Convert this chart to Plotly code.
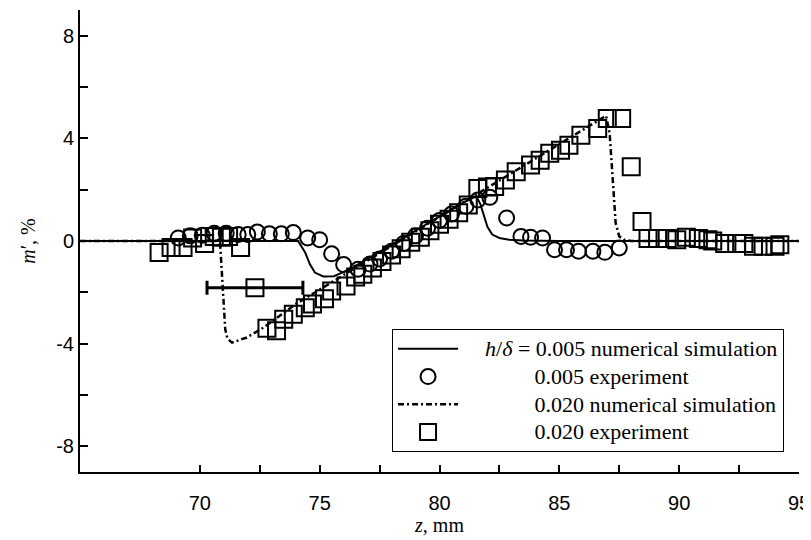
import plotly.graph_objects as go

# ---- data ----
sim005_z = [65.0, 70.0, 73.0, 73.8, 74.1, 74.4, 74.6, 74.8, 75.15, 75.6, 76.0, 76.3,
            77.0, 78.0, 79.0, 80.0, 81.0, 81.4, 81.55, 81.7, 81.85, 82.0, 82.2, 82.5,
            82.9, 83.5, 85.0, 90.0, 95.0]
sim005_m = [0.0, 0.0, 0.02, 0.02, 0.0, -0.46, -0.92, -1.23, -1.38, -1.37, -1.19, -1.08,
            -0.7, -0.15, 0.4, 0.95, 1.5, 1.68, 1.72, 1.45, 1.0, 0.55, 0.25, 0.12,
            0.05, 0.02, 0.0, 0.0, 0.0]

exp005_z = [69.1, 69.6, 70.1, 70.6, 71.1, 71.6, 72.0, 72.4, 72.9, 73.4, 73.9, 74.5,
            75.0, 75.5, 76.0, 76.6, 77.1, 77.5, 78.0, 78.5, 79.0, 79.5, 80.0, 80.5,
            81.1, 81.6, 82.1, 82.8, 83.4, 83.8, 84.3, 84.8, 85.3, 85.8, 86.4, 86.9, 87.5]
exp005_m = [0.12, 0.2, 0.22, 0.3, 0.3, 0.25, 0.25, 0.35, 0.28, 0.28, 0.33, 0.12,
            0.05, -0.5, -0.92, -1.1, -0.9, -0.7, -0.4, -0.1, 0.2, 0.5, 0.8, 1.05,
            1.35, 1.6, 1.7, 0.9, 0.18, 0.15, 0.12, -0.34, -0.34, -0.4, -0.4, -0.44, -0.27]

sim020_z = [65.0, 70.0, 70.7, 70.85, 70.95, 71.06, 71.15, 71.34, 71.96, 72.66, 74.0,
            76.0, 78.0, 80.0, 82.0, 84.0, 86.0, 86.95, 87.1, 87.2, 87.27, 87.35,
            87.5, 87.7, 88.0, 90.0, 95.0]
sim020_m = [0.0, 0.0, 0.0, -0.14, -1.6, -3.44, -3.8, -3.96, -3.76, -3.37, -2.46,
            -1.33, -0.2, 0.93, 2.05, 3.18, 4.31, 4.88, 4.19, 2.89, 1.6, 0.7,
            0.18, 0.05, 0.0, 0.0, 0.0]

exp020_z = [68.3, 68.8, 69.3, 69.7, 70.2, 70.6, 70.9, 71.2, 71.7, 72.8, 73.2, 73.5,
            73.9, 74.4, 74.7, 75.2, 75.5, 76.1, 76.5, 76.8, 77.2, 77.6, 78.0, 78.4,
            78.8, 79.2, 79.6, 80.0, 80.4, 80.8, 81.2, 81.6, 82.0, 82.3, 82.75, 83.2,
            83.8, 84.2, 84.6, 85.05, 85.4, 85.9, 86.6, 87.0, 87.6, 88.0, 88.45, 88.7,
            89.1, 89.5, 89.9, 90.3, 90.8, 91.2, 91.4, 91.9, 92.4, 92.7, 93.1, 93.5,
            94.0, 94.2]
exp020_m = [-0.45, -0.25, -0.25, 0.12, -0.1, 0.18, 0.15, 0.18, -0.25, -3.4, -3.5, -3.05,
            -2.85, -2.6, -2.45, -2.25, -1.95, -1.75, -1.4, -1.3, -1.05, -0.8, -0.55, -0.3,
            -0.05, 0.15, 0.4, 0.65, 0.85, 1.1, 1.4, 2.05, 2.1, 2.12, 2.38, 2.7,
            2.96, 3.15, 3.42, 3.54, 3.73, 4.12, 4.38, 4.77, 4.77, 2.89, 0.76, 0.1,
            0.1, 0.1, 0.05, 0.15, 0.1, 0.05, 0.0, -0.1, -0.1, -0.1, -0.2, -0.2,
            -0.2, -0.15]

errpt_z = [72.3]
errpt_m = [-1.82]
errpt_dz = [2.0]

x_ticks = [70, 75, 80, 85, 90, 95]
x_minor = [72.5, 77.5, 82.5, 87.5, 92.5]
y_ticks = [-8, -4, 0, 4, 8]
y_ticktext = ["-8", "-4", "0", "4", "8"]
y_minor = [-6, -2, 2, 6]

NB = "\u00a0"
lead = NB * 4
pad = NB * 9


def leg(txt):
    return '<span style="font-size:22px">' + txt + "</span>"


fig = go.Figure()
fig.add_trace(go.Scatter(x=sim005_z, y=sim005_m, mode="lines",
                         line=dict(color="black", width=2),
                         name=leg(lead + "<i>h</i>/<i>δ</i> = 0.005 numerical simulation")))
fig.add_trace(go.Scatter(x=exp005_z, y=exp005_m, mode="markers",
                         marker=dict(symbol="circle-open", size=15, color="black",
                                     line=dict(width=2, color="black")),
                         name=leg(lead + pad + "0.005 experiment")))
fig.add_trace(go.Scatter(x=sim020_z, y=sim020_m, mode="lines",
                         line=dict(color="black", width=2.5, dash="6px,3px,2px,3px"),
                         name=leg(lead + pad + "0.020 numerical simulation")))
fig.add_trace(go.Scatter(x=exp020_z, y=exp020_m, mode="markers",
                         marker=dict(symbol="square-open", size=17, color="black",
                                     line=dict(width=2, color="black")),
                         name=leg(lead + pad + "0.020 experiment")))
fig.add_trace(go.Scatter(x=errpt_z, y=errpt_m, mode="markers",
                         marker=dict(symbol="square-open", size=17, color="black",
                                     line=dict(width=2, color="black")),
                         error_x=dict(type="data", array=errpt_dz, color="black",
                                      thickness=3, width=7),
                         showlegend=False))

tickfont = dict(family="Liberation Sans, Arial, sans-serif", size=20, color="black")
titlefont = dict(family="Liberation Serif, Times New Roman, serif", size=20, color="black")

fig.update_layout(
    width=811, height=540,
    # page body has an 8px margin; margins compensate so the plot area lands at
    # x 80..799, y 10..472 of the window
    margin=dict(l=72, r=20, t=2, b=76),
    plot_bgcolor="white", paper_bgcolor="white",
    showlegend=True,
    legend=dict(x=0.434, y=0.3095, xanchor="left", yanchor="top",
                bordercolor="black", borderwidth=1, bgcolor="white",
                font=dict(family="Liberation Serif, Times New Roman, serif", size=19,
                          color="black"),
                itemwidth=60, traceorder="normal"),
    xaxis=dict(range=[65, 95], showline=True, linecolor="black", linewidth=2,
               showgrid=False, zeroline=False, ticks="inside", ticklen=7,
               tickwidth=1.5, tickcolor="black", tickvals=x_ticks, tickfont=tickfont,
               ticklabelstandoff=12, automargin=False,
               minor=dict(tickvals=x_minor, ticks="inside", ticklen=7, tickwidth=1.5,
                          tickcolor="black", showgrid=False),
               title=dict(text="<i>z</i>, mm", font=titlefont, standoff=2)),
    yaxis=dict(range=[-9, 9], showline=True, linecolor="black", linewidth=2,
               showgrid=False, zeroline=False, ticks="inside", ticklen=8,
               tickwidth=1.5, tickcolor="black", tickvals=y_ticks, ticktext=y_ticktext,
               tickfont=tickfont, automargin=False,
               minor=dict(tickvals=y_minor, ticks="inside", ticklen=8, tickwidth=1.5,
                          tickcolor="black", showgrid=False),
               title=dict(text="<i>m</i>′, %", font=titlefont, standoff=15)),
)

fig.write_html("out.html")
